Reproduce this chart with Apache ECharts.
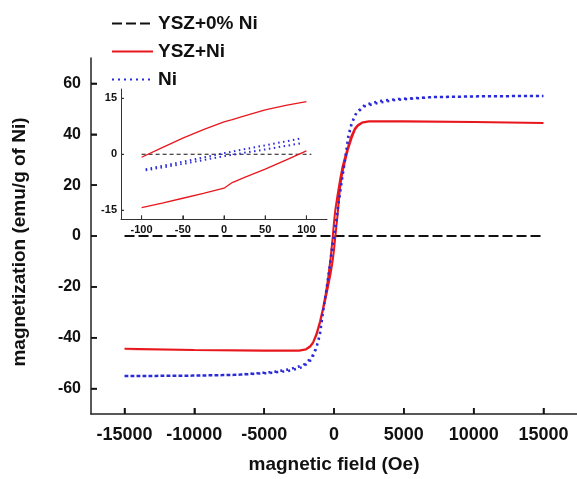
<!DOCTYPE html>
<html>
<head>
<meta charset="utf-8">
<script src="https://cdn.jsdelivr.net/npm/echarts@6/dist/echarts.min.js"></script>
<style>html,body{margin:0;padding:0;background:#fff}#c{width:577px;height:479px}</style>
</head>
<body>
<div id="c"></div>
<script>
// ---- main panel data ----
var xTicks = [-15000, -10000, -5000, 0, 5000, 10000, 15000];
var yTicks = [-60, -40, -20, 0, 20, 40, 60];
var ysz0Field = [-15000, 15000];
var ysz0Mag = [0, 0];

var redField = [-15000,-10000,-5000,-2500,-2000,-1700,-1500,-1260,-1000,-790,-600,-430,-250,-100,0,100,250,430,600,790,1000,1260,1500,1700,2000,2500,5000,10000,15000];
var redUp   = [-44.3,-44.8,-45.1,-45.1,-44.6,-43.5,-42,-39,-34,-29,-24.5,-20,-15,-10,-5.5,0,8,19,25,29.5,34,38.5,41.8,43.3,44.5,45,45,44.8,44.4];
var redDown = [-44.4,-44.8,-45,-45,-44.5,-43.3,-41.8,-38.5,-33.5,-28.5,-23,-17,-9,-1,5.5,10.5,16,22,27,31,35,39.5,42.3,43.6,44.6,45.1,45.1,44.8,44.3];

var niField = [-15000,-10000,-7000,-4400,-3200,-2200,-1600,-1260,-1020,-790,-540,-310,-100,0,100,310,540,790,1020,1260,1600,2200,3200,4400,7000,10000,15000];
var niUp   = [-55.1,-54.9,-54.6,-53.5,-52.4,-50.8,-47.8,-43.8,-39.3,-30,-21,-12.5,-4.3,-0.5,3,12,21,30,38.5,44,48.5,51.5,53,53.8,54.6,54.9,55.1];
var niDown = [-55.1,-54.9,-54.6,-53.8,-53,-51.5,-48.5,-44,-38.5,-30,-21,-12,-3,0.3,4.3,12.5,21,30,39.3,44.4,48.3,51,52.4,53.5,54.6,54.9,55.1];

// ---- inset data ----
var inXTicks = [-100, -50, 0, 50, 100];
var inYTicks = [-15, 0, 15];
var inYsz0Field = [-100, 106];
var inYsz0Mag = [0, 0];
var inRedField = [-100, -75, -50, -25, 0, 10, 25, 50, 75, 100];
var inRedLow  = [-14.3, -13.1, -11.8, -10.5, -9.1, -7.6, -6.2, -4.0, -1.6, 0.9];
var inRedHigh = [-0.8, 1.8, 4.3, 6.6, 8.7, 9.3, 10.3, 11.9, 13.1, 14.1];
var inNiField = [-95, -50, 0, 50, 95];
var inNiA = [-4.0, -2.0, 0.3, 2.4, 4.3];
var inNiB = [-4.3, -2.6, -0.5, 1.3, 3.0];

function pairs(xs, ys) { var o = []; for (var i = 0; i < xs.length; i++) o.push([xs[i], ys[i]]); return o; }
function loop(xs, up, down) {
  var o = pairs(xs, up);
  for (var i = xs.length - 1; i >= 0; i--) o.push([xs[i], down[i]]);
  return o;
}
function plain(v) { return String(v); }
function asRows(vals) { return vals.map(function (v) { return [v, v]; }); }

// tick marks drawn through the axes' own scales (inside ticks)
function xTickRenderer(len, width, color) {
  return function (params, api) {
    var cs = params.coordSys;
    var px = api.coord([api.value(0), 0])[0];
    var yb = cs.y + cs.height;
    return {type: 'line', shape: {x1: px, y1: yb, x2: px, y2: yb - len},
            style: {stroke: color, lineWidth: width}};
  };
}
function yTickRenderer(len, width, color) {
  return function (params, api) {
    var cs = params.coordSys;
    var py = api.coord([0, api.value(1)])[1];
    var xl = cs.x;
    return {type: 'line', shape: {x1: xl, y1: py, x2: xl + len, y2: py},
            style: {stroke: color, lineWidth: width}};
  };
}

var FONT = '"Liberation Sans", Arial, sans-serif';
var BLACK = '#111', RED = '#e8171d', BLUE = '#2a2ad8';

var chart = echarts.init(document.getElementById('c'), null, {renderer: 'canvas'});
chart.setOption({
  animation: false,
  backgroundColor: '#fff',
  legend: {
    orient: 'vertical', left: 106, top: 9, itemWidth: 41, itemHeight: 14, itemGap: 9,
    itemStyle: {opacity: 0},
    textStyle: {fontFamily: FONT, fontWeight: 'bold', fontSize: 19, color: '#111', lineHeight: 17},
    data: ['YSZ+0% Ni', 'YSZ+Ni', 'Ni']
  },
  grid: [
    {left: 91, top: 58, width: 487, height: 357},
    {left: 121, top: 89, width: 206, height: 130.5}
  ],
  xAxis: [
    {gridIndex: 0, type: 'value', min: -17400, max: 17400,
     name: 'magnetic field (Oe)', nameLocation: 'middle', nameGap: 41,
     nameTextStyle: {fontFamily: FONT, fontWeight: 'bold', fontSize: 19, color: '#111'},
     axisLine: {onZero: false, lineStyle: {color: '#222', width: 1.5}},
     axisTick: {show: true, inside: true, length: 6, customValues: xTicks, lineStyle: {color: '#111', width: 1.5}},
     axisLabel: {customValues: xTicks, formatter: plain, margin: 12, fontFamily: FONT, fontWeight: 'bold', fontSize: 18, color: '#111'},
     splitLine: {show: false}},
    {gridIndex: 1, type: 'value', min: -125, max: 125,
     axisLine: {onZero: false, lineStyle: {color: '#333', width: 1}},
     axisTick: {show: true, inside: true, length: 4, customValues: inXTicks, lineStyle: {color: '#333'}},
     axisLabel: {customValues: inXTicks, formatter: plain, margin: 5, fontFamily: FONT, fontWeight: 'bold', fontSize: 11, color: '#111'},
     splitLine: {show: false}}
  ],
  yAxis: [
    {gridIndex: 0, type: 'value', min: -70, max: 70,
     name: 'magnetization (emu/g of Ni)', nameLocation: 'middle', nameGap: 62, nameRotate: 90,
     nameTextStyle: {fontFamily: FONT, fontWeight: 'bold', fontSize: 19, color: '#111', padding: [0, 12, 0, 0]},
     axisLine: {show: true, onZero: false, lineStyle: {color: '#222', width: 1.5}},
     axisTick: {show: true, inside: true, length: 6, customValues: yTicks, lineStyle: {color: '#111', width: 1.5}},
     axisLabel: {customValues: yTicks, formatter: plain, margin: 10, fontFamily: FONT, fontWeight: 'bold', fontSize: 16, color: '#111'},
     splitLine: {show: false}},
    {gridIndex: 1, type: 'value', min: -17.5, max: 17.5,
     axisLine: {show: true, onZero: false, lineStyle: {color: '#333', width: 1}},
     axisTick: {show: true, inside: true, length: 3, customValues: inYTicks, lineStyle: {color: '#333'}},
     axisLabel: {customValues: inYTicks, formatter: plain, margin: 4, fontFamily: FONT, fontWeight: 'bold', fontSize: 11, color: '#111'},
     splitLine: {show: false}}
  ],
  series: [
    {name: 'YSZ+0% Ni', type: 'line', xAxisIndex: 0, yAxisIndex: 0, symbol: 'none', z: 3,
     lineStyle: {color: BLACK, width: 2.2, type: [10, 4]}, itemStyle: {color: BLACK},
     data: pairs(ysz0Field, ysz0Mag)},
    {name: 'YSZ+Ni', type: 'line', xAxisIndex: 0, yAxisIndex: 0, symbol: 'none', z: 4,
     lineStyle: {color: RED, width: 2}, itemStyle: {color: RED},
     data: loop(redField, redUp, redDown)},
    {name: 'Ni', type: 'line', xAxisIndex: 0, yAxisIndex: 0, symbol: 'none', z: 5,
     lineStyle: {color: BLUE, width: 2.5, type: [2, 4]}, itemStyle: {color: BLUE},
     data: loop(niField, niUp, niDown)},
    {name: 'inset YSZ+0% Ni', type: 'line', xAxisIndex: 1, yAxisIndex: 1, symbol: 'none',
     lineStyle: {color: BLACK, width: 1, type: [4, 3]},
     data: pairs(inYsz0Field, inYsz0Mag)},
    {name: 'inset YSZ+Ni low', type: 'line', xAxisIndex: 1, yAxisIndex: 1, symbol: 'none',
     lineStyle: {color: RED, width: 1.3},
     data: pairs(inRedField, inRedLow)},
    {name: 'inset YSZ+Ni high', type: 'line', xAxisIndex: 1, yAxisIndex: 1, symbol: 'none',
     lineStyle: {color: RED, width: 1.3},
     data: pairs(inRedField, inRedHigh)},
    {name: 'inset Ni A', type: 'line', xAxisIndex: 1, yAxisIndex: 1, symbol: 'none',
     lineStyle: {color: BLUE, width: 2, type: [1.5, 3.5]},
     data: pairs(inNiField, inNiA)},
    {name: 'inset Ni B', type: 'line', xAxisIndex: 1, yAxisIndex: 1, symbol: 'none',
     lineStyle: {color: BLUE, width: 2, type: [1.5, 3.5]},
     data: pairs(inNiField, inNiB)},
    {name: 'main x ticks', type: 'custom', xAxisIndex: 0, yAxisIndex: 0, clip: false, silent: true, z: 10,
     renderItem: xTickRenderer(6, 1.5, '#111'), data: asRows(xTicks)},
    {name: 'main y ticks', type: 'custom', xAxisIndex: 0, yAxisIndex: 0, clip: false, silent: true, z: 10,
     renderItem: yTickRenderer(6, 1.5, '#111'), data: asRows(yTicks)},
    {name: 'inset x ticks', type: 'custom', xAxisIndex: 1, yAxisIndex: 1, clip: false, silent: true, z: 10,
     renderItem: xTickRenderer(4, 1, '#333'), data: asRows(inXTicks)},
    {name: 'inset y ticks', type: 'custom', xAxisIndex: 1, yAxisIndex: 1, clip: false, silent: true, z: 10,
     renderItem: yTickRenderer(3, 1, '#333'), data: asRows(inYTicks)}
  ]
});
</script>
</body>
</html>
